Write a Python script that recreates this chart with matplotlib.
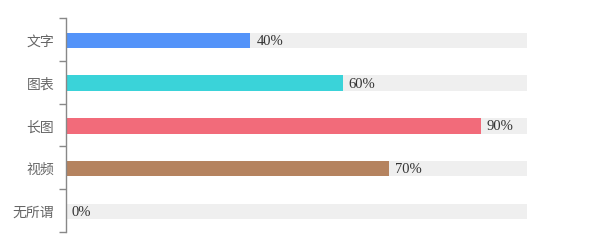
import matplotlib
matplotlib.use("Agg")
import matplotlib.pyplot as plt
import numpy as np

categories = ["文字", "图表", "长图", "视频", "无所谓"]
values = [40, 60, 90, 70, 0]
colors = ["#5393f9", "#3ad3d9", "#f26b7a", "#b5835f", "#b5835f"]

fig = plt.figure(figsize=(5.91, 2.53), dpi=100)
ax = fig.add_axes([66/591, 1-233/253, (527-66)/591, (233-19)/253])

y = np.arange(len(categories))
h = 0.36
ax.barh(y + 0.02, [100]*len(y), height=h, color="#efefef", zorder=1)
ax.barh(y + 0.02, values, height=h, color=colors, zorder=2)
for yi, v in zip(y, values):
    ax.text(v + 1.3, yi + 0.02, f"{v}%", va="center", ha="left", fontsize=10.5,
            fontfamily=["Liberation Serif"], color="#333333", zorder=3)

ax.set_xlim(0, 100)
ax.set_ylim(len(categories) - 0.5, -0.5)
ax.set_yticks(y)
ax.set_yticklabels(categories, fontfamily=["Noto Sans CJK SC"], fontsize=10, color="#666666")
ax.set_yticks(np.arange(-0.5, len(categories)), minor=True)
ax.tick_params(axis="y", which="major", length=0, pad=8.5)
ax.tick_params(axis="y", which="minor", length=5, color="#888888", width=1)
ax.set_xticks([])
for s in ["top", "right", "bottom"]:
    ax.spines[s].set_visible(False)
ax.spines["left"].set_color("#888888")
ax.spines["left"].set_linewidth(1)

fig.savefig("out.png", dpi=100)
